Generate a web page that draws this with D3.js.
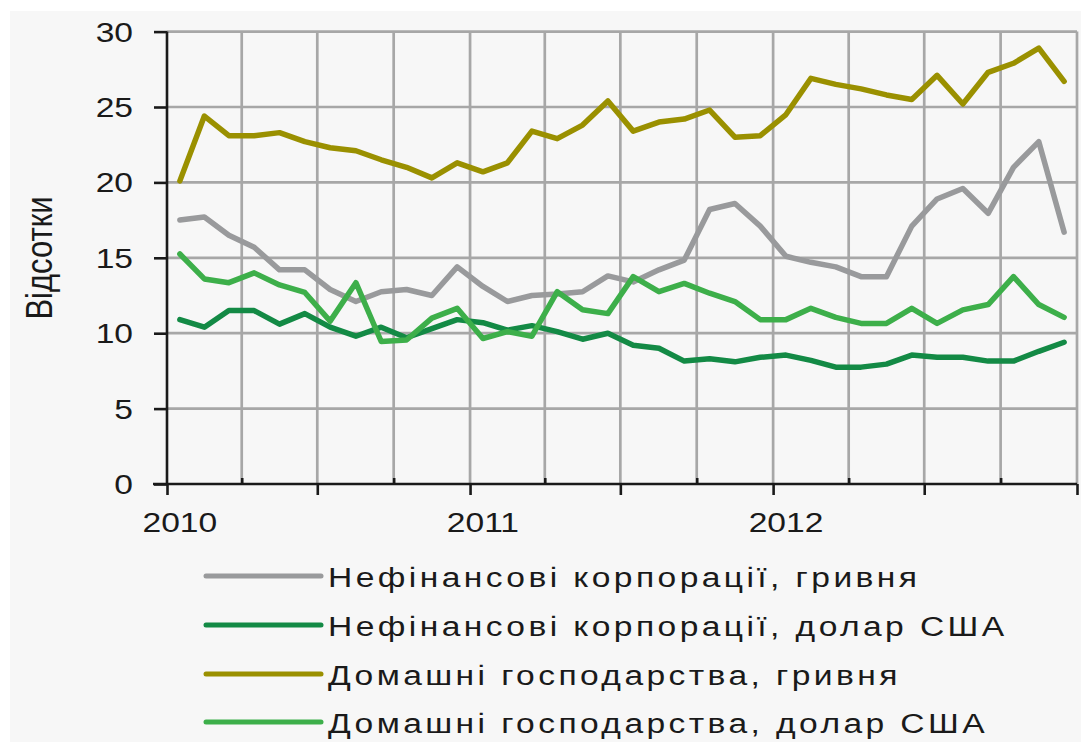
<!DOCTYPE html>
<html>
<head>
<meta charset="utf-8">
<script src="https://cdn.jsdelivr.net/npm/d3@7"></script>
<style>
  html, body { margin: 0; padding: 0; background: #ffffff; }
  svg { display: block; }
  text { font-family: "Liberation Sans", Arial, sans-serif; fill: #1a1a1a; }
</style>
</head>
<body>
<script>
// Monthly interest rates on new loans, Jan 2010 – Dec 2012 (per cent)
const startMonth = new Date(2010, 0, 1);
const endMonth = new Date(2013, 0, 1);
const yearLabels = ["2010", "2011", "2012"];
const yTicks = [0, 5, 10, 15, 20, 25, 30];

const seriesNames = [
  "Нефінансові корпорації, гривня",
  "Нефінансові корпорації, долар США",
  "Домашні господарства, гривня",
  "Домашні господарства, долар США"
];
const seriesColors = ["#999a9c", "#138a45", "#9a9000", "#3daf4a"];

const corpUah = [17.5, 17.7, 16.5, 15.7, 14.2, 14.2, 12.9, 12.1, 12.75, 12.9, 12.5, 14.4,
                 13.1, 12.1, 12.5, 12.6, 12.75, 13.8, 13.4, 14.2, 14.85, 18.2, 18.6, 17.1,
                 15.1, 14.7, 14.4, 13.75, 13.75, 17.1, 18.9, 19.6, 17.95, 21.0, 22.7, 16.7];
const corpUsd = [10.9, 10.4, 11.5, 11.5, 10.6, 11.3, 10.4, 9.8, 10.4, 9.7, 10.3, 10.9,
                 10.7, 10.2, 10.5, 10.1, 9.6, 10.0, 9.2, 9.0, 8.15, 8.3, 8.1, 8.4,
                 8.55, 8.2, 7.75, 7.75, 7.95, 8.55, 8.4, 8.4, 8.15, 8.15, 8.8, 9.4];
const hhUah = [20.1, 24.4, 23.1, 23.1, 23.3, 22.7, 22.3, 22.1, 21.5, 21.0, 20.3, 21.3,
               20.7, 21.3, 23.4, 22.9, 23.8, 25.4, 23.4, 24.0, 24.2, 24.8, 23.0, 23.1,
               24.5, 26.9, 26.5, 26.2, 25.8, 25.5, 27.1, 25.2, 27.3, 27.9, 28.9, 26.7];
const hhUsd = [15.25, 13.6, 13.35, 14.0, 13.2, 12.7, 10.8, 13.35, 9.45, 9.55, 11.0, 11.65,
               9.65, 10.1, 9.8, 12.75, 11.55, 11.3, 13.75, 12.75, 13.3, 12.65, 12.1, 10.9,
               10.9, 11.65, 11.05, 10.65, 10.65, 11.65, 10.65, 11.55, 11.9, 13.75, 11.9, 11.05];

const seriesValues = [corpUah, corpUsd, hhUah, hhUsd];
// drawing order: the gray line sits below the green ones
const drawOrder = [0, 2, 1, 3];

const W = 1081, H = 742;
const plot = { left: 167, right: 1077, top: 31.6, bottom: 484 };
const SX = 1.2; // horizontal stretch applied to all text

const months = d3.timeMonth.range(startMonth, endMonth);
const midMonth = d => new Date((d.getTime() + d3.timeMonth.offset(d, 1).getTime()) / 2);

const x = d3.scaleTime().domain([startMonth, endMonth]).range([plot.left, plot.right]);
const y = d3.scaleLinear().domain([0, 30]).range([plot.bottom, plot.top]);

const svg = d3.select("body").append("svg").attr("width", W).attr("height", H);

svg.append("rect").attr("x", 0).attr("y", 0).attr("width", W).attr("height", H).attr("fill", "#ffffff");
svg.append("rect").attr("x", 10).attr("y", 11).attr("width", W - 10).attr("height", H - 11).attr("fill", "#f7f7f7");

function stretchedText(g, tx, ty, str, opts = {}) {
  const t = g.append("g")
    .attr("transform", `translate(${tx},${ty}) scale(${SX},1)` + (opts.rotate ? ` rotate(${opts.rotate})` : ""))
    .append("text")
    .attr("x", 0).attr("y", 0)
    .attr("font-size", opts.size || 28)
    .attr("text-anchor", opts.anchor || "start")
    .text(str);
  if (opts.dy) t.attr("dy", opts.dy);
  if (opts.spacing) t.attr("letter-spacing", opts.spacing);
  return t;
}

// grid
const quarters = d3.timeMonth.every(3).range(startMonth, d3.timeDay.offset(endMonth, 1));
const grid = svg.append("g").attr("stroke", "#a7a7a7").attr("stroke-width", 2.7);
grid.selectAll("line.v").data(quarters.slice(1)).join("line")
  .attr("x1", d => x(d)).attr("x2", d => x(d))
  .attr("y1", plot.top).attr("y2", plot.bottom);
grid.selectAll("line.h").data(yTicks.slice(1)).join("line")
  .attr("x1", plot.left).attr("x2", plot.right)
  .attr("y1", d => y(d)).attr("y2", d => y(d));

// series lines
const line = d3.line()
  .x((v, i) => x(midMonth(months[i])))
  .y(v => y(v));
svg.append("g").selectAll("path").data(drawOrder).join("path")
  .attr("d", k => line(seriesValues[k]))
  .attr("fill", "none")
  .attr("stroke", k => seriesColors[k])
  .attr("stroke-width", 5.5)
  .attr("stroke-linejoin", "round")
  .attr("stroke-linecap", "round");

// y axis
const yAxis = svg.append("g").attr("transform", `translate(${plot.left},0)`)
  .call(d3.axisLeft(y).tickValues(yTicks).tickSize(13).tickFormat(""));
yAxis.select(".domain").attr("d", `M0,${plot.top}V${plot.bottom}`);
yAxis.selectAll("path, line").attr("stroke", "#1a1a1a").attr("stroke-width", 2.6);
yTicks.forEach(v => stretchedText(svg, 133, y(v), String(v), { anchor: "end", dy: "0.36em", size: 28 }));

// x axis: semi-annual ticks below, quarterly ticks above
const halfYears = d3.timeMonth.every(6).range(startMonth, d3.timeDay.offset(endMonth, 1));
const quarterOnly = quarters.filter(d => d.getMonth() % 6 !== 0);
const xAxis = svg.append("g").attr("transform", `translate(0,${plot.bottom})`);
xAxis.call(d3.axisBottom(x).tickValues(halfYears).tickSize(11).tickFormat(""));
xAxis.select(".domain").attr("d", `M${plot.left - 14},0H${plot.right}`);
const xMinor = svg.append("g").attr("transform", `translate(0,${plot.bottom})`)
  .call(d3.axisTop(x).tickValues(quarterOnly).tickSize(6).tickFormat(""));
xMinor.select(".domain").remove();
svg.selectAll(".tick line, .domain").attr("stroke", "#1a1a1a").attr("stroke-width", 2.6);

yearLabels.forEach(lbl => {
  const d = new Date(+lbl, 0, 1);
  stretchedText(svg, x(midMonth(d)), 532, lbl, { anchor: "middle", size: 28 });
});

// axis title
stretchedText(svg, 52, 258, "Відсотки", { anchor: "middle", size: 31, rotate: -90 });

// legend
const legendRows = [576, 625, 674, 722];
const legend = svg.append("g");
seriesNames.forEach((name, k) => {
  const ly = legendRows[k];
  legend.append("line")
    .attr("x1", 206).attr("x2", 321).attr("y1", ly).attr("y2", ly)
    .attr("stroke", seriesColors[k]).attr("stroke-width", 5).attr("stroke-linecap", "round");
  stretchedText(legend, 328, ly + 11, name, { size: 28, spacing: 2.85 });
});
</script>
</body>
</html>
